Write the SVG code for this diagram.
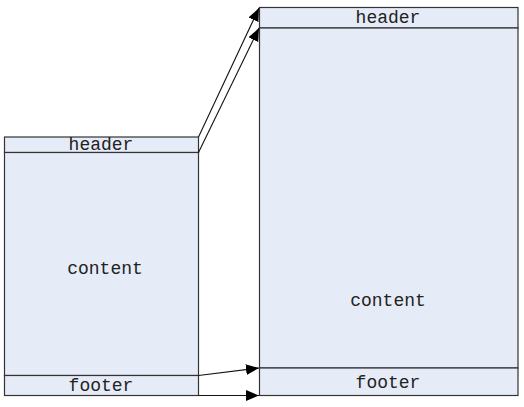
<svg xmlns="http://www.w3.org/2000/svg" width="524" height="407" viewBox="0 0 524 407">
<style>
.box{fill:#e6ecf7;stroke:#333;stroke-width:1.2}
.t{font-family:"Liberation Mono","Courier New",monospace;font-size:18px;fill:#222;text-anchor:middle}
.c{fill:none;stroke:#111;stroke-width:1.1}
</style>
<defs>
<marker id="ah" viewBox="0 0 12 10" refX="12" refY="5" markerWidth="13" markerHeight="11" markerUnits="userSpaceOnUse" orient="auto">
<path d="M0,0 L12,5 L0,10 z" fill="#000"/>
</marker>
</defs>
<g id="left">
<g id="left-header"><rect class="box" x="4.5" y="137" width="194" height="15.5"/><text class="t" x="101" y="150">header</text></g>
<g id="left-content"><rect class="box" x="4.5" y="152.5" width="194" height="223"/><text class="t" x="105" y="274">content</text></g>
<g id="left-footer"><rect class="box" x="4.5" y="375.5" width="194" height="20"/><text class="t" x="101" y="391">footer</text></g>
</g>
<g id="right">
<g id="right-header"><rect class="box" x="259.5" y="7.5" width="258.5" height="20.5"/><text class="t" x="388" y="23">header</text></g>
<g id="right-content"><rect class="box" x="259.5" y="28" width="258.5" height="340"/><text class="t" x="388" y="306">content</text></g>
<g id="right-footer"><rect class="box" x="259.5" y="368" width="258.5" height="27.5"/><text class="t" x="388" y="388">footer</text></g>
</g>
<g id="connectors">
<line class="c" x1="198.5" y1="137" x2="259" y2="8" marker-end="url(#ah)"/>
<line class="c" x1="198.5" y1="152.5" x2="259" y2="28" marker-end="url(#ah)"/>
<line class="c" x1="198.5" y1="375.5" x2="259" y2="368" marker-end="url(#ah)"/>
<line class="c" x1="198.5" y1="395.5" x2="259" y2="395.5" marker-end="url(#ah)"/>
</g>
</svg>
